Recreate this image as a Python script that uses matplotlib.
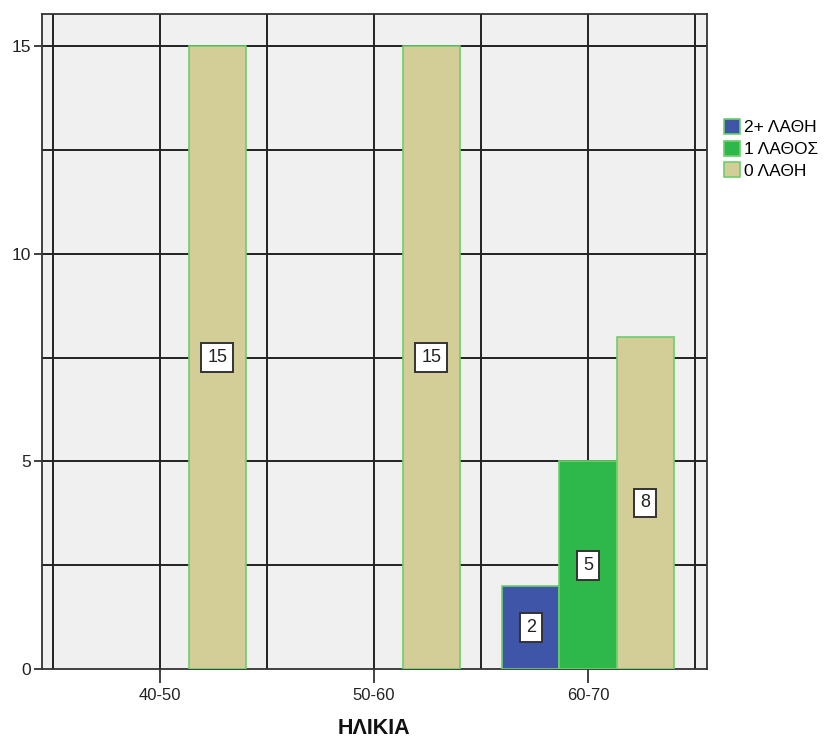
import matplotlib
matplotlib.use("Agg")
import matplotlib.pyplot as plt
from matplotlib.patches import Patch
import numpy as np

plt.rcParams['font.family'] = ['Liberation Sans', 'DejaVu Sans']

categories = ["40-50", "50-60", "60-70"]
series_names = ["2+ ΛΑΘΗ", "1 ΛΑΘΟΣ", "0 ΛΑΘΗ"]
errors2 = [0, 0, 2]
errors1 = [0, 0, 5]
errors0 = [15, 15, 8]
y_ticks = [0, 5, 10, 15]
x_title = "ΗΛΙΚΙΑ"

colors = ["#3E55A8", "#2EB84A", "#D3CE97"]
edge = "#6CCF6C"

fig = plt.figure(figsize=(8.24, 7.4), dpi=100)
ax = fig.add_axes([42/824, 1-669/740, (707-42)/824, (669-14)/740])
ax.set_facecolor("#F0F0F0")

x = np.arange(len(categories))
w = 0.267
offsets = [-w, 0, w]
for vals, off, c in zip([errors2, errors1, errors0], offsets, colors):
    for xi, v in zip(x, vals):
        if v <= 0:
            continue
        ax.bar(xi + off, v, width=w, color=c, edgecolor=edge, linewidth=1.2, zorder=3)
        ax.text(xi + off, v / 2, str(v), ha='center', va='center', fontsize=13,
                zorder=5, color='#222222',
                bbox=dict(boxstyle='square,pad=0.33', facecolor='white',
                          edgecolor='#333333', linewidth=1.4))

ax.set_xlim(-0.552, 2.556)
ax.set_ylim(0, 15.78)

# grid lines
for gx in [-0.5, 0, 0.5, 1, 1.5, 2, 2.5]:
    ax.axvline(gx, color='#222222', linewidth=1.4, zorder=1)
for gy in [2.5, 5, 7.5, 10, 12.5, 15]:
    ax.axhline(gy, color='#222222', linewidth=1.4, zorder=1)

ax.set_xticks(x)
ax.set_xticklabels(categories, fontsize=12)
ax.set_yticks(y_ticks)
ax.set_yticklabels([str(t) for t in y_ticks], fontsize=12.5)
ax.tick_params(axis='x', length=10, width=1.3, color='#333333', pad=4, labelcolor='#222222')
ax.tick_params(axis='y', length=6, width=1.3, color='#333333', pad=2, labelcolor='#222222')
for s in ax.spines.values():
    s.set_color('#333333')
    s.set_linewidth(1.3)

fig.text(374/824, 1-728/740, x_title, ha='center', va='center', fontsize=15.5,
         fontweight='bold', color='#111111')

handles = [Patch(facecolor=c, edgecolor=edge, linewidth=1.2) for c in colors]
fig.legend(handles, series_names, loc='upper left',
           bbox_to_anchor=(724/824, 1-119/740), frameon=False,
           fontsize=12.5, handlelength=0.95, handleheight=0.95,
           handletextpad=0.2, labelspacing=0.3, borderpad=0, borderaxespad=0)

fig.savefig("out.png", dpi=100)
